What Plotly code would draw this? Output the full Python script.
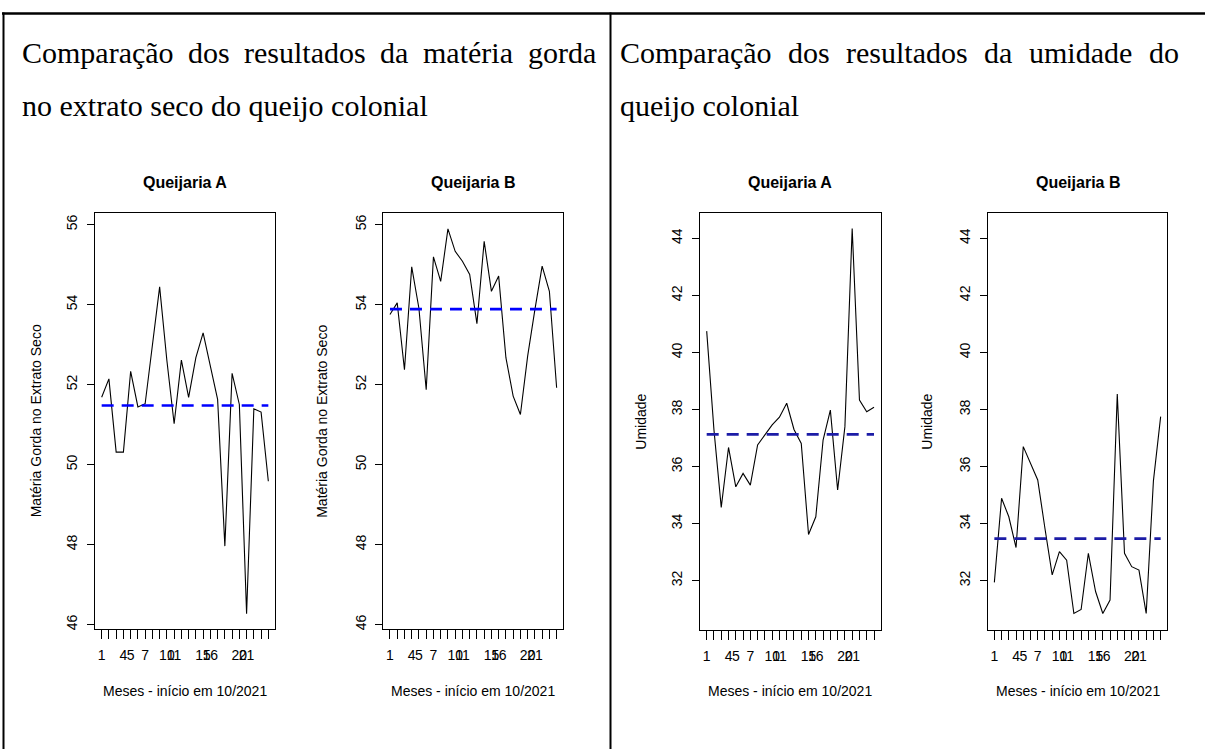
import plotly.graph_objects as go

W, H = 1205, 749

# ---- data ----
meses = list(range(1, 25))

mg_queijaria_a = [51.68, 52.14, 50.31, 50.31, 52.33, 51.44, 51.52, 53.00, 54.44, 52.60,
                  51.02, 52.61, 51.68, 52.67, 53.29, 52.46, 51.63, 47.96, 52.28, 51.50,
                  46.27, 51.39, 51.31, 49.58]
mg_queijaria_b = [53.75, 54.04, 52.37, 54.94, 53.90, 51.87, 55.19, 54.58, 55.89, 55.33,
                  55.08, 54.75, 53.52, 55.58, 54.33, 54.71, 52.67, 51.71, 51.25, 52.71,
                  53.87, 54.96, 54.33, 51.92]
um_queijaria_a = [40.75, 37.28, 34.57, 36.67, 35.29, 35.76, 35.35, 36.76, 37.11, 37.46,
                  37.73, 38.22, 37.30, 36.81, 33.62, 34.24, 36.93, 37.98, 35.18, 37.40,
                  44.35, 38.33, 37.92, 38.08]
um_queijaria_b = [31.94, 34.89, 34.24, 33.16, 36.70, 36.11, 35.53, 33.83, 32.20, 33.02,
                  32.72, 30.85, 30.99, 32.96, 31.62, 30.85, 31.32, 38.54, 32.96, 32.49,
                  32.37, 30.85, 35.50, 37.75]

x_labels_shown = [1, 4, 5, 7, 10, 11, 15, 16, 20, 21]
mg_ticks = [46, 48, 50, 52, 54, 56]
um_ticks = [32, 34, 36, 38, 40, 42, 44]

x_title = "Meses - início em 10/2021"
mg_title = "Matéria Gorda no Extrato Seco"
um_title = "Umidade"


def px(x):
    return x / W


def py(y):
    return 1 - y / H


AXFONT = dict(family="Liberation Sans, Arial", size=14, color="#000000")

panels = [
    dict(y=mg_queijaria_a, name="Queijaria A", ylab=mg_title, box=(95, 275, 213.3, 629.3),
         yr=[45.88, 56.28], yt=mg_ticks, mc="#0000ff", ytx=36),
    dict(y=mg_queijaria_b, name="Queijaria B", ylab=mg_title, box=(383.3, 563.3, 213.3, 629.3),
         yr=[45.88, 56.28], yt=mg_ticks, mc="#0000ff", ytx=322.5),
    dict(y=um_queijaria_a, name="Queijaria A", ylab=um_title, box=(700, 880.7, 213.3, 630),
         yr=[30.27, 44.88], yt=um_ticks, mc="#1c1ca6", ytx=641),
    dict(y=um_queijaria_b, name="Queijaria B", ylab=um_title, box=(987.7, 1167.3, 213.3, 630),
         yr=[30.27, 44.88], yt=um_ticks, mc="#1c1ca6", ytx=927),
]

fig = go.Figure()
annotations = []
layout_axes = {}

for i, p in enumerate(panels, start=1):
    xa = "x" if i == 1 else f"x{i}"
    ya = "y" if i == 1 else f"y{i}"
    xl, xr, yt_, yb = p["box"]
    mean_val = sum(p["y"]) / len(p["y"])
    fig.add_trace(go.Scatter(x=meses, y=p["y"], mode="lines",
                             line=dict(color="#000000", width=1.1),
                             xaxis=xa, yaxis=ya, showlegend=False, hoverinfo="skip"))
    fig.add_trace(go.Scatter(x=[meses[0], meses[-1]], y=[mean_val, mean_val], mode="lines",
                             line=dict(color=p["mc"], width=2.6, dash="12px,8px"),
                             xaxis=xa, yaxis=ya, showlegend=False, hoverinfo="skip"))
    layout_axes["xaxis" if i == 1 else f"xaxis{i}"] = dict(
        domain=[px(xl), px(xr)], anchor=ya, range=[0.08, 24.92],
        tickmode="array", tickvals=meses,
        ticktext=[str(m) if m in x_labels_shown else "" for m in meses],
        ticks="outside", ticklen=9, tickwidth=1, tickcolor="#000000",
        showline=True, linecolor="#000000", linewidth=1, mirror=True,
        showgrid=False, zeroline=False, tickfont=AXFONT, tickangle=0,
        ticklabelstandoff=4,
    )
    layout_axes["yaxis" if i == 1 else f"yaxis{i}"] = dict(
        domain=[py(yb), py(yt_)], anchor=xa, range=p["yr"],
        tickmode="array", tickvals=p["yt"], ticktext=[str(v) for v in p["yt"]],
        ticks="outside", ticklen=7, tickwidth=1, tickcolor="#000000",
        showline=True, linecolor="#000000", linewidth=1, mirror=True,
        showgrid=False, zeroline=False, tickfont=AXFONT, tickangle=-90,
        ticklabelstandoff=4,
    )
    cx = (xl + xr) / 2
    annotations.append(dict(text=f"<b>{p['name']}</b>", x=px(cx), y=py(182), xref="paper", yref="paper",
                            xanchor="center", yanchor="middle", showarrow=False,
                            font=dict(family="Liberation Sans, Arial", size=16, color="#000000")))
    annotations.append(dict(text=x_title, x=px(cx), y=py(691), xref="paper", yref="paper",
                            xanchor="center", yanchor="middle", showarrow=False, font=AXFONT))
    annotations.append(dict(text=p["ylab"], x=px(p["ytx"]), y=py((yt_ + yb) / 2), xref="paper", yref="paper",
                            xanchor="center", yanchor="middle", showarrow=False, textangle=-90, font=AXFONT))

# ---- document-style headers (justified first lines) ----
SERIF = dict(family="Liberation Serif, Times New Roman", size=30, color="#000000")
left_words = [("Comparação", 20), ("dos", 186), ("resultados", 242), ("da", 378),
              ("matéria", 421), ("gorda", 526)]
right_words = [("Comparação", 618), ("dos", 786), ("resultados", 844), ("da", 982),
               ("umidade", 1027), ("do", 1147)]
for w, x in left_words + right_words:
    annotations.append(dict(text=w, x=px(x), y=py(53), xref="paper", yref="paper",
                            xanchor="left", yanchor="middle", showarrow=False, font=SERIF))
annotations.append(dict(text="no extrato seco do queijo colonial", x=px(20), y=py(105),
                        xref="paper", yref="paper", xanchor="left", yanchor="middle",
                        showarrow=False, font=SERIF))
annotations.append(dict(text="queijo colonial", x=px(618), y=py(105),
                        xref="paper", yref="paper", xanchor="left", yanchor="middle",
                        showarrow=False, font=SERIF))

shapes = [
    dict(type="line", xref="paper", yref="paper", x0=px(2), x1=1, y0=py(13.5), y1=py(13.5),
         line=dict(color="#000000", width=2.5)),
    dict(type="line", xref="paper", yref="paper", x0=px(3.5), x1=px(3.5), y0=py(12.5), y1=0,
         line=dict(color="#000000", width=2)),
    dict(type="line", xref="paper", yref="paper", x0=px(610.5), x1=px(610.5), y0=py(12.5), y1=0,
         line=dict(color="#000000", width=2)),
]

fig.update_layout(
    width=W, height=H, margin=dict(l=0, r=0, t=0, b=0),
    paper_bgcolor="#ffffff", plot_bgcolor="#ffffff",
    annotations=annotations, shapes=shapes, showlegend=False,
    **layout_axes,
)

fig.write_html("out.html")
